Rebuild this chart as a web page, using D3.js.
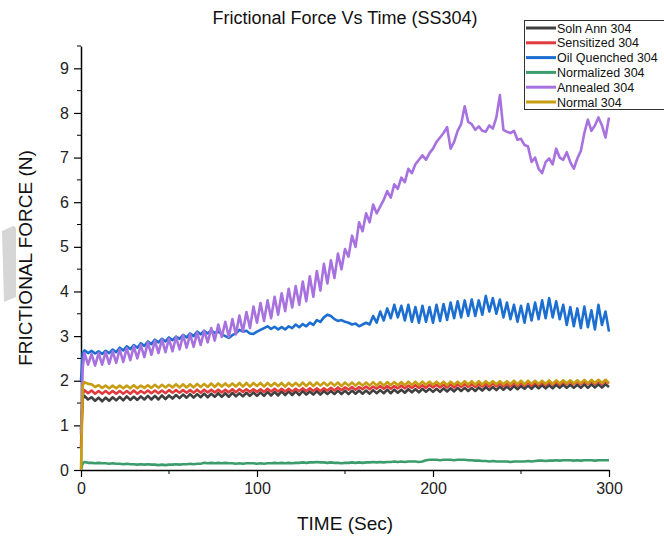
<!DOCTYPE html>
<html>
<head>
<meta charset="utf-8">
<script src="https://cdn.jsdelivr.net/npm/d3@7"></script>
<style>
  body { margin: 0; background: #fff; }
  svg { display: block; font-family: Arial, "Liberation Sans", sans-serif; }
</style>
</head>
<body>
<div id="main"></div>
<script>
// sample times (s): 0, 1, then every 2 s up to 300
const time = [0, 1,
  2, 4, 6, 8, 10, 12, 14, 16, 18, 20,
  22, 24, 26, 28, 30, 32, 34, 36, 38, 40,
  42, 44, 46, 48, 50, 52, 54, 56, 58, 60,
  62, 64, 66, 68, 70, 72, 74, 76, 78, 80,
  82, 84, 86, 88, 90, 92, 94, 96, 98, 100,
  102, 104, 106, 108, 110, 112, 114, 116, 118, 120,
  122, 124, 126, 128, 130, 132, 134, 136, 138, 140,
  142, 144, 146, 148, 150, 152, 154, 156, 158, 160,
  162, 164, 166, 168, 170, 172, 174, 176, 178, 180,
  182, 184, 186, 188, 190, 192, 194, 196, 198, 200,
  202, 204, 206, 208, 210, 212, 214, 216, 218, 220,
  222, 224, 226, 228, 230, 232, 234, 236, 238, 240,
  242, 244, 246, 248, 250, 252, 254, 256, 258, 260,
  262, 264, 266, 268, 270, 272, 274, 276, 278, 280,
  282, 284, 286, 288, 290, 292, 294, 296, 298, 300];

const solnAnn = [0.9, 1.6,
  1.66,1.58,1.63,1.55,1.62,1.54,1.62,1.55,1.63,1.56,
  1.64,1.56,1.65,1.57,1.64,1.57,1.65,1.58,1.66,1.58,
  1.66,1.58,1.67,1.59,1.67,1.60,1.68,1.61,1.69,1.62,
  1.70,1.62,1.70,1.63,1.71,1.63,1.71,1.64,1.72,1.64,
  1.72,1.64,1.73,1.65,1.72,1.65,1.73,1.66,1.74,1.66,
  1.74,1.66,1.75,1.67,1.75,1.67,1.76,1.68,1.76,1.68,
  1.76,1.68,1.77,1.69,1.76,1.69,1.77,1.69,1.77,1.70,
  1.77,1.70,1.78,1.70,1.78,1.70,1.78,1.71,1.78,1.71,
  1.78,1.71,1.79,1.72,1.79,1.72,1.80,1.72,1.80,1.73,
  1.80,1.73,1.81,1.74,1.81,1.74,1.82,1.75,1.82,1.75,
  1.82,1.75,1.83,1.76,1.83,1.76,1.84,1.77,1.84,1.77,
  1.84,1.77,1.85,1.78,1.86,1.79,1.86,1.79,1.87,1.80,
  1.87,1.80,1.88,1.81,1.88,1.82,1.89,1.82,1.90,1.83,
  1.90,1.83,1.90,1.83,1.91,1.84,1.91,1.84,1.91,1.84,
  1.91,1.84,1.92,1.84,1.92,1.85,1.92,1.85,1.92,1.86];

const sensitized = [0.5, 1.7,
  1.79,1.72,1.78,1.71,1.77,1.71,1.77,1.71,1.77,1.71,
  1.77,1.71,1.77,1.71,1.78,1.71,1.77,1.72,1.78,1.72,
  1.78,1.72,1.78,1.72,1.79,1.73,1.79,1.73,1.79,1.73,
  1.79,1.73,1.80,1.73,1.80,1.74,1.80,1.74,1.80,1.74,
  1.80,1.74,1.81,1.74,1.81,1.75,1.81,1.75,1.81,1.75,
  1.81,1.75,1.82,1.76,1.82,1.76,1.82,1.76,1.82,1.76,
  1.82,1.77,1.83,1.77,1.83,1.77,1.83,1.77,1.83,1.78,
  1.84,1.78,1.85,1.79,1.85,1.80,1.86,1.80,1.86,1.81,
  1.87,1.81,1.87,1.82,1.88,1.82,1.88,1.82,1.88,1.83,
  1.89,1.83,1.89,1.84,1.90,1.84,1.90,1.84,1.91,1.85,
  1.91,1.85,1.91,1.85,1.92,1.85,1.92,1.86,1.92,1.86,
  1.92,1.86,1.93,1.87,1.93,1.87,1.94,1.88,1.94,1.88,
  1.94,1.88,1.95,1.89,1.95,1.89,1.96,1.89,1.96,1.90,
  1.96,1.90,1.97,1.91,1.97,1.91,1.97,1.92,1.98,1.92,
  1.98,1.92,1.98,1.93,1.99,1.93,1.99,1.93,1.99,1.94];

const oilQuenched = [2.0, 2.62,
  2.68,2.62,2.67,2.61,2.66,2.60,2.67,2.62,2.70,2.64,
  2.74,2.68,2.77,2.71,2.80,2.74,2.84,2.78,2.88,2.82,
  2.92,2.86,2.94,2.88,2.97,2.91,2.99,2.94,3.03,2.97,
  3.06,3.00,3.10,3.04,3.12,3.06,3.13,3.07,3.10,3.04,
  3.00,2.96,3.02,3.06,3.14,3.10,3.12,3.06,3.05,3.10,
  3.14,3.18,3.22,3.16,3.21,3.15,3.20,3.15,3.22,3.18,
  3.26,3.20,3.27,3.22,3.30,3.25,3.36,3.32,3.42,3.48,
  3.45,3.38,3.34,3.36,3.32,3.30,3.26,3.28,3.22,3.26,
  3.30,3.26,3.45,3.30,3.55,3.35,3.62,3.40,3.70,3.42,
  3.68,3.35,3.70,3.32,3.65,3.30,3.68,3.32,3.65,3.30,
  3.70,3.34,3.72,3.36,3.75,3.40,3.78,3.42,3.80,3.45,
  3.82,3.45,3.80,3.48,3.90,3.55,3.85,3.50,3.82,3.42,
  3.75,3.38,3.70,3.32,3.68,3.30,3.72,3.35,3.75,3.38,
  3.80,3.40,3.85,3.42,3.78,3.38,3.70,3.25,3.65,3.22,
  3.62,3.18,3.66,3.20,3.58,3.15,3.70,3.25,3.55,3.10];

const normalized = [0.02, 0.15,
  0.18,0.16,0.16,0.15,0.16,0.15,0.15,0.14,0.15,0.14,
  0.14,0.13,0.14,0.13,0.13,0.12,0.13,0.12,0.13,0.12,
  0.12,0.11,0.12,0.11,0.12,0.12,0.13,0.12,0.13,0.13,
  0.14,0.13,0.14,0.14,0.16,0.15,0.16,0.15,0.16,0.15,
  0.16,0.15,0.15,0.14,0.15,0.14,0.15,0.15,0.15,0.14,
  0.15,0.14,0.15,0.15,0.16,0.15,0.16,0.15,0.16,0.15,
  0.16,0.16,0.17,0.16,0.17,0.17,0.18,0.17,0.17,0.16,
  0.17,0.16,0.16,0.15,0.16,0.16,0.17,0.16,0.17,0.16,
  0.17,0.17,0.18,0.17,0.18,0.17,0.18,0.18,0.19,0.18,
  0.19,0.18,0.19,0.19,0.19,0.18,0.19,0.22,0.23,0.23,
  0.23,0.22,0.23,0.23,0.23,0.22,0.23,0.23,0.23,0.22,
  0.22,0.21,0.21,0.20,0.20,0.19,0.20,0.19,0.19,0.19,
  0.19,0.18,0.19,0.19,0.19,0.19,0.20,0.19,0.20,0.21,
  0.21,0.20,0.21,0.21,0.22,0.21,0.22,0.22,0.22,0.21,
  0.22,0.21,0.22,0.22,0.22,0.21,0.22,0.22,0.22,0.22];

const annealed = [0.8, 2.3,
  2.62,2.36,2.60,2.34,2.62,2.36,2.64,2.38,2.66,2.40,
  2.70,2.42,2.73,2.46,2.77,2.50,2.80,2.53,2.86,2.58,
  2.90,2.62,2.92,2.64,2.94,2.66,2.98,2.70,3.02,2.74,
  3.04,2.76,3.08,2.80,3.12,2.86,3.18,2.90,3.26,2.98,
  3.32,2.98,3.38,3.04,3.46,3.10,3.54,3.18,3.66,3.30,
  3.74,3.34,3.80,3.40,3.88,3.48,3.96,3.56,4.06,3.64,
  4.12,3.70,4.22,3.78,4.34,3.88,4.46,4.02,4.62,4.18,
  4.70,4.30,4.85,4.50,4.95,4.78,5.25,5.00,5.55,5.35,
  5.75,5.55,5.95,5.75,5.90,6.05,6.25,6.10,6.40,6.30,
  6.55,6.45,6.75,6.65,6.85,6.95,7.05,6.95,7.10,7.20,
  7.35,7.45,7.55,7.68,7.20,7.35,7.60,7.75,8.15,7.80,
  7.75,7.62,7.70,7.60,7.58,7.72,7.65,7.90,8.40,7.62,
  7.58,7.55,7.60,7.40,7.42,7.28,7.25,6.90,7.00,6.75,
  6.65,6.90,6.98,6.85,7.20,7.00,6.95,7.12,6.90,6.75,
  6.98,7.15,7.55,7.85,7.60,7.72,7.90,7.72,7.45,7.90];

const normal = [0.0, 1.9,
  1.97,1.93,1.92,1.86,1.90,1.84,1.89,1.83,1.89,1.83,
  1.89,1.83,1.89,1.83,1.90,1.83,1.89,1.84,1.90,1.84,
  1.91,1.84,1.91,1.85,1.91,1.85,1.92,1.85,1.92,1.85,
  1.92,1.85,1.93,1.86,1.93,1.86,1.94,1.86,1.94,1.87,
  1.94,1.87,1.94,1.87,1.95,1.87,1.95,1.87,1.95,1.88,
  1.95,1.87,1.95,1.88,1.95,1.88,1.95,1.87,1.95,1.88,
  1.95,1.88,1.96,1.88,1.96,1.88,1.96,1.89,1.96,1.89,
  1.96,1.89,1.96,1.88,1.96,1.89,1.96,1.89,1.96,1.89,
  1.96,1.89,1.97,1.89,1.97,1.89,1.97,1.90,1.97,1.90,
  1.97,1.90,1.98,1.90,1.98,1.90,1.98,1.91,1.98,1.91,
  1.98,1.91,1.98,1.90,1.98,1.91,1.98,1.91,1.99,1.91,
  1.99,1.91,1.99,1.91,1.99,1.92,1.99,1.92,1.99,1.92,
  1.99,1.92,2.00,1.92,2.00,1.92,2.00,1.93,2.00,1.93,
  2.00,1.93,2.01,1.93,2.01,1.94,2.01,1.94,2.01,1.94,
  2.01,1.94,2.02,1.94,2.02,1.95,2.02,1.95,2.02,1.95];

const seriesNames = ["Soln Ann 304", "Sensitized 304", "Oil Quenched 304",
                     "Normalized 304", "Annealed 304", "Normal 304"];
const seriesValues = [solnAnn, sensitized, oilQuenched, normalized, annealed, normal];
const seriesColors = ["#404040", "#e23b3d", "#1c6fd0", "#3c9c6c", "#a772df", "#c79d12"];

const xTicks = [0, 100, 200, 300];
const yTicks = [0, 1, 2, 3, 4, 5, 6, 7, 8, 9];

const width = 664, height = 538;
const svg = d3.select("#main").append("svg")
    .attr("width", width)
    .attr("height", height);

// gray smudge at the left edge of the original image
svg.append("path")
    .attr("d", "M2,231 L13,226 Q16,226 16,230 L16,297 L4,302 Z")
    .attr("fill", "#d6d6d6");

const x = d3.scaleLinear().domain([0, 300]).range([81, 609]);
const y = d3.scaleLinear().domain([0, 9.5]).range([470, 46]);

const font = "Arial, 'Liberation Sans', sans-serif";

// axes: major ticks labelled, minor ticks in between
const xAxis = svg.append("g").attr("transform", `translate(0,${y(0)})`);
xAxis.call(d3.axisBottom(x).tickValues(xTicks).tickSize(7).tickSizeOuter(0).tickPadding(6));
xAxis.append("g").selectAll("line")
    .data([50, 150, 250])
    .join("line")
    .attr("x1", d => x(d)).attr("x2", d => x(d))
    .attr("y1", 0).attr("y2", 4)
    .attr("stroke", "#000");

const yAxis = svg.append("g").attr("transform", `translate(${x(0)},0)`);
yAxis.call(d3.axisLeft(y).tickValues(yTicks).tickSize(7).tickSizeOuter(0).tickPadding(5));
yAxis.append("g").selectAll("line")
    .data([0.5, 1.5, 2.5, 3.5, 4.5, 5.5, 6.5, 7.5, 8.5, 9.5])
    .join("line")
    .attr("x1", 0).attr("x2", -4)
    .attr("y1", d => y(d)).attr("y2", d => y(d))
    .attr("stroke", "#000");

svg.selectAll(".domain").attr("stroke", "#000").attr("stroke-width", 1.5);
svg.selectAll(".tick line").attr("stroke", "#000").attr("stroke-width", 1.2);
svg.selectAll(".tick text")
    .attr("font-family", font)
    .attr("font-size", 16)
    .attr("fill", "#222");

// series lines
const line = d3.line()
    .x((d, i) => x(time[i]))
    .y(d => y(d));

svg.append("g")
    .selectAll("path")
    .data(seriesValues)
    .join("path")
    .attr("d", d => line(d))
    .attr("fill", "none")
    .attr("stroke", (d, i) => seriesColors[i])
    .attr("stroke-width", 2.6)
    .attr("stroke-linejoin", "round");

// titles
svg.append("text")
    .attr("x", 345).attr("y", 24)
    .attr("text-anchor", "middle")
    .attr("font-family", font)
    .attr("font-size", 18)
    .attr("fill", "#111")
    .text("Frictional Force Vs Time (SS304)");

svg.append("text")
    .attr("x", 345).attr("y", 530)
    .attr("text-anchor", "middle")
    .attr("font-family", font)
    .attr("font-size", 19)
    .attr("fill", "#111")
    .text("TIME (Sec)");

svg.append("text")
    .attr("transform", "translate(32,258) rotate(-90)")
    .attr("text-anchor", "middle")
    .attr("font-family", font)
    .attr("font-size", 19)
    .attr("fill", "#111")
    .text("FRICTIONAL FORCE (N)");

// legend
const legend = svg.append("g");
legend.append("rect")
    .attr("x", 524.5).attr("y", 20.5)
    .attr("width", 140).attr("height", 89)
    .attr("fill", "#fff")
    .attr("stroke", "#333")
    .attr("stroke-width", 1);

const items = legend.selectAll("g.item")
    .data(seriesNames)
    .join("g")
    .attr("transform", (d, i) => `translate(525,${28 + i * 14.8})`);
items.append("line")
    .attr("x1", 1).attr("x2", 31)
    .attr("stroke", (d, i) => seriesColors[i])
    .attr("stroke-width", 3);
items.append("text")
    .attr("x", 32).attr("y", 4.5)
    .attr("font-family", font)
    .attr("font-size", 12.5)
    .attr("fill", "#111")
    .text(d => d);
</script>
</body>
</html>
